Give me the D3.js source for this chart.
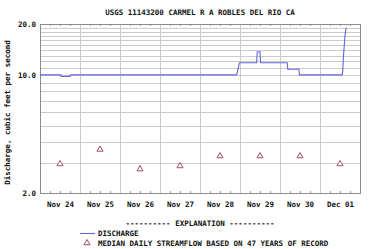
<!DOCTYPE html>
<html>
<head>
<meta charset="utf-8">
<script src="https://cdn.jsdelivr.net/npm/d3@7"></script>
<style>
  body { margin: 0; background: #fff; }
  text { font-family: "DejaVu Sans Mono", monospace; font-weight: bold; font-size: 7.5px; fill: #111; }
</style>
</head>
<body>
<svg id="chart" width="374" height="249"></svg>
<script>
// discharge readings (local time strings) and values in cfs
var flowTimes = ["2019-11-24T00:00", "2019-11-24T12:30", "2019-11-24T12:40", "2019-11-24T18:00", "2019-11-24T18:30",
  "2019-11-28T22:00", "2019-11-28T23:40", "2019-11-29T10:00", "2019-11-29T10:20", "2019-11-29T12:00",
  "2019-11-29T12:20", "2019-11-30T04:20", "2019-11-30T04:40", "2019-11-30T11:20", "2019-11-30T11:40",
  "2019-12-01T13:20", "2019-12-01T13:40", "2019-12-01T14:00", "2019-12-01T15:00", "2019-12-01T15:40"];
var flowValues = [10.0, 10.0, 9.8, 9.8, 10.0,
  10.0, 11.8, 11.8, 13.7, 13.7,
  11.8, 11.8, 10.8, 10.8, 10.0,
  10.0, 10.6, 12.6, 17.0, 19.0];

var medianDays = ["2019-11-24", "2019-11-25", "2019-11-26", "2019-11-27", "2019-11-28", "2019-11-29", "2019-11-30", "2019-12-01"];
var medianValues = [2.97, 3.62, 2.77, 2.89, 3.31, 3.31, 3.31, 2.97];

var yLabelTicks = [2, 10, 20];
var yMinorTicks = [3, 4, 5, 6, 7, 8, 9, 11, 12, 13, 14, 15, 16, 17, 18, 19];

var title = "USGS 11143200 CARMEL R A ROBLES DEL RIO CA";
var yTitle = "Discharge, cubic feet per second";
var legendHead = "----------  EXPLANATION  ----------";
var legendLine = "DISCHARGE";
var legendMedian = "MEDIAN DAILY STREAMFLOW BASED ON 47 YEARS OF RECORD";

var margin = {top: 24, right: 14, bottom: 56, left: 40},
    width = 374 - margin.left - margin.right,
    height = 249 - margin.top - margin.bottom;

var parseTime = d3.utcParse("%Y-%m-%dT%H:%M"),
    parseDay = d3.utcParse("%Y-%m-%d");

var flow = flowTimes.map(function(t, i) { return {date: parseTime(t), value: flowValues[i]}; });
var medians = medianDays.map(function(t, i) { return {date: d3.utcHour.offset(parseDay(t), 12), value: medianValues[i]}; });

var x = d3.scaleUtc()
    .domain([parseDay("2019-11-24"), parseDay("2019-12-02")])
    .range([0, width]);
var y = d3.scaleLog()
    .domain([2, 20])
    .range([height, 0]);

var gridColor = "#cbcbcb";

var svg = d3.select("#chart");

svg.append("text")
    .attr("x", margin.left + width / 2)
    .attr("y", 15)
    .attr("text-anchor", "middle")
    .text(title);

var g = svg.append("g")
    .attr("transform", "translate(" + margin.left + "," + margin.top + ")");

// horizontal grid
var hGrid = g.append("g")
    .attr("transform", "translate(0.5,0)")
    .call(d3.axisLeft(y).tickValues(yMinorTicks.concat(yLabelTicks)).tickSize(-width).tickFormat(""));
hGrid.select(".domain").remove();
hGrid.selectAll("line")
    .attr("stroke", gridColor)
    .attr("shape-rendering", "crispEdges");

// vertical grid at midnight
var vGrid = g.append("g")
    .call(d3.axisBottom(x).ticks(d3.utcDay.every(1)).tickSize(height).tickFormat(""));
vGrid.select(".domain").remove();
vGrid.selectAll("line")
    .attr("stroke", gridColor)
    .attr("shape-rendering", "crispEdges");

// 6-hour tick marks inside top and bottom
var sixHours = d3.utcHour.every(6).range(x.domain()[0], x.domain()[1])
    .filter(function(d) { return d.getUTCHours() !== 0; });
[[0, 2], [height - 2, height]].forEach(function(yy) {
  g.append("g").selectAll("line")
      .data(sixHours)
      .enter().append("line")
      .attr("x1", function(d) { return Math.round(x(d)) + 0.5; })
      .attr("x2", function(d) { return Math.round(x(d)) + 0.5; })
      .attr("y1", yy[0]).attr("y2", yy[1])
      .attr("stroke", "#999");
});

// frame
g.append("rect")
    .attr("x", 0.5).attr("y", 0.5)
    .attr("width", width).attr("height", height)
    .attr("fill", "none")
    .attr("stroke", "#8c8c8c");

function styleLabels(a) {
  a.select(".domain").remove();
  a.selectAll("text")
    .style("font-family", "'DejaVu Sans Mono', monospace")
    .style("font-size", "7.5px")
    .style("font-weight", "bold")
    .attr("fill", "#111");
}

// y labels
g.append("g")
    .call(d3.axisLeft(y).tickValues(yLabelTicks).tickSize(0).tickPadding(4).tickFormat(d3.format(".1f")))
    .call(styleLabels);

// x labels at noon
var noons = medianDays.map(function(t) { return d3.utcHour.offset(parseDay(t), 12); });
g.append("g")
    .attr("transform", "translate(0," + height + ")")
    .call(d3.axisBottom(x).tickValues(noons).tickSize(0).tickPadding(9).tickFormat(d3.utcFormat("%b %d")))
    .call(styleLabels);

// y title
svg.append("text")
    .attr("transform", "translate(10," + (margin.top + height / 2 + 4) + ") rotate(-90)")
    .attr("text-anchor", "middle")
    .text(yTitle);

var line = d3.line()
    .x(function(d) { return x(d.date); })
    .y(function(d) { return y(d.value); });

g.append("path")
    .datum(flow)
    .attr("d", line)
    .attr("fill", "none")
    .attr("stroke", "#6464dc")
    .attr("stroke-width", 1.1);

var tri = d3.symbol().type(d3.symbolTriangle).size(16);
g.selectAll("path.median")
    .data(medians)
    .enter().append("path")
    .attr("class", "median")
    .attr("d", tri)
    .attr("transform", function(d) { return "translate(" + x(d.date) + "," + y(d.value) + ")"; })
    .attr("fill", "#fff")
    .attr("stroke", "#a04c6c")
    .attr("stroke-width", 1);

// legend
svg.append("text")
    .attr("x", margin.left + width / 2)
    .attr("y", 226)
    .attr("text-anchor", "middle")
    .text(legendHead);

svg.append("line")
    .attr("x1", 80).attr("x2", 95)
    .attr("y1", 233.5).attr("y2", 233.5)
    .attr("stroke", "#6464dc")
    .attr("stroke-width", 1.1);
svg.append("text")
    .attr("x", 98).attr("y", 236)
    .text(legendLine);

svg.append("path")
    .attr("d", tri)
    .attr("transform", "translate(87,243)")
    .attr("fill", "#fff")
    .attr("stroke", "#a04c6c");
svg.append("text")
    .attr("x", 98).attr("y", 246)
    .text(legendMedian);
</script>
</body>
</html>
